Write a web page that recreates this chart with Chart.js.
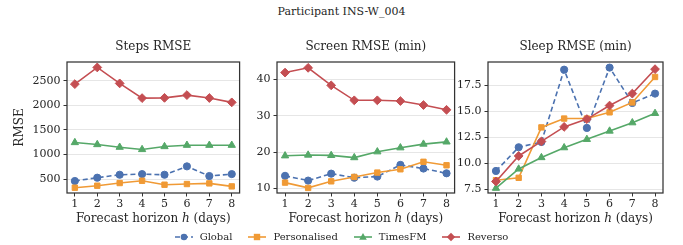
<!DOCTYPE html>
<html>
<head>
<meta charset="utf-8">
<script src="https://cdn.jsdelivr.net/npm/chart.js@4.4.1/dist/chart.umd.min.js"></script>
<style>
  html, body { margin:0; padding:0; background:#fff; }
  body { width:683px; height:245px; position:relative; overflow:hidden; font-family:"DejaVu Serif", serif; color:#262626; }
  .cv { position:absolute; top:0; }
  #figtitle { position:absolute; top:5px; left:0; width:683px; text-align:center; font-size:11px; }
  #legend { position:absolute; top:230px; left:0; width:683px; display:flex; justify-content:center; font-size:10px; line-height:14px; }
  .li { display:flex; align-items:center; margin:0 8px; }
  .li svg { margin-right:7px; }
</style>
</head>
<body>
<div id="figtitle">Participant INS-W_004</div>
<canvas id="c1" class="cv" style="left:0px" width="245" height="245"></canvas>
<canvas id="c2" class="cv" style="left:245px" width="215" height="245"></canvas>
<canvas id="c3" class="cv" style="left:455px" width="228" height="245"></canvas>
<div id="legend"></div>
<script>
// ---------- DATA ----------
const horizons = [1, 2, 3, 4, 5, 6, 7, 8];
const seriesNames = ["Global", "Personalised", "TimesFM", "Reverso"];

const stepsGlobal       = [460, 527, 587, 600, 587, 758, 561, 600];
const stepsPersonalised = [323, 364, 418, 465, 384, 398, 411, 350];
const stepsTimesFM      = [1244, 1203, 1149, 1102, 1162, 1189, 1189, 1189];
const stepsReverso      = [2435, 2775, 2450, 2150, 2155, 2211, 2152, 2063];

const screenGlobal       = [13.5, 12.2, 14.1, 13.0, 13.3, 16.5, 15.5, 14.2];
const screenPersonalised = [11.65, 10.2, 12.0, 13.2, 14.4, 15.3, 17.35, 16.4];
const screenTimesFM      = [19.0, 19.2, 19.1, 18.5, 20.1, 21.2, 22.2, 22.8];
const screenReverso      = [41.8, 43.1, 38.3, 34.2, 34.2, 34.0, 32.9, 31.6];

const sleepGlobal       = [9.26, 11.54, 12.05, 19.0, 13.4, 19.2, 15.8, 16.7];
const sleepPersonalised = [8.37, 8.6, 13.45, 14.3, 14.3, 14.9, 15.85, 18.3];
const sleepTimesFM      = [7.6, 9.45, 10.55, 11.5, 12.3, 13.1, 13.9, 14.8];
const sleepReverso      = [8.25, 10.7, 12.1, 13.5, 14.25, 15.55, 16.7, 19.05];

const stepsTicks  = [500, 1000, 1500, 2000, 2500];
const screenTicks = [10, 20, 30, 40];
const sleepTicks  = [7.5, 10.0, 12.5, 15.0, 17.5];

const panelTitles = ["Steps RMSE", "Screen RMSE (min)", "Sleep RMSE (min)"];
const yAxisTitle = "RMSE";
const xLabelParts = ["Forecast horizon ", "h", " (days)"];

// ---------- STYLE ----------
const FONT = '"DejaVu Serif", serif';
const TXT = '#262626';
const styles = [
  { color:'#4C72B0', pointStyle:'circle',   radius:3.6, dash:[5,3] },
  { color:'#F09A35', pointStyle:'rect',     radius:3.8, dash:[] },
  { color:'#55A868', pointStyle:'triangle', radius:4.2, dash:[] },
  { color:'#C44E52', pointStyle:'rectRot',  radius:4.4, dash:[] }
];

function mkDatasets(arrs) {
  return arrs.map((vals, i) => ({
    label: seriesNames[i],
    data: horizons.map((h, k) => ({ x: h, y: vals[k] })),
    borderColor: styles[i].color,
    backgroundColor: styles[i].color,
    borderWidth: 1.6,
    borderDash: styles[i].dash,
    pointStyle: styles[i].pointStyle,
    pointRadius: styles[i].radius,
    pointBorderWidth: 1,
    pointHoverRadius: styles[i].radius,
    tension: 0,
    order: 3 - i
  }));
}

const framePlugin = {
  id: 'frame',
  afterDraw(chart, args, opts) {
    const { ctx, chartArea: a } = chart;
    ctx.save();
    ctx.strokeStyle = '#333';
    ctx.lineWidth = 1.25;
    ctx.setLineDash([]);
    ctx.strokeRect(a.left, a.top, a.right - a.left, a.bottom - a.top);
    ctx.fillStyle = TXT;
    ctx.textBaseline = 'middle';
    ctx.textAlign = 'center';
    ctx.font = '12px ' + FONT;
    ctx.fillText(opts.title, (a.left + a.right) / 2, opts.titleY);
    const fonts = ['12px ' + FONT, 'italic 12px ' + FONT, '12px ' + FONT];
    const widths = xLabelParts.map((t, i) => { ctx.font = fonts[i]; return ctx.measureText(t).width; });
    const total = widths.reduce((s, w) => s + w, 0);
    let x = (a.left + a.right) / 2 - total / 2;
    ctx.textAlign = 'left';
    xLabelParts.forEach((t, i) => { ctx.font = fonts[i]; ctx.fillText(t, x, opts.xLabelY); x += widths[i]; });
    ctx.restore();
  }
};

function mkChart(id, arrs, title, yTicks, yMin, yMax, yWidth, rightPad, showYTitle, fmt) {
  return new Chart(document.getElementById(id), {
    type: 'line',
    data: { datasets: mkDatasets(arrs) },
    plugins: [framePlugin],
    options: {
      responsive: false,
      animation: false,
      events: [],
      layout: { padding: { top: 62, bottom: 32, left: 0, right: rightPad } },
      plugins: {
        legend: { display: false },
        tooltip: { enabled: false },
        title: { display: false },
        frame: { title: title, titleY: 47, xLabelY: 219 }
      },
      scales: {
        x: {
          type: 'linear', min: 0.65, max: 8.35,
          afterBuildTicks: s => { s.ticks = horizons.map(v => ({ value: v })); },
          afterFit: s => { s.height = 20; },
          border: { display: false },
          grid: { drawOnChartArea: false, drawTicks: true, tickLength: 3.5, tickColor: '#333', lineWidth: 1 },
          ticks: { color: TXT, font: { family: FONT, size: 11 }, padding: 1, maxRotation: 0 }
        },
        y: {
          type: 'linear', min: yMin, max: yMax,
          afterBuildTicks: s => { s.ticks = yTicks.map(v => ({ value: v })); },
          afterFit: s => { s.width = yWidth; },
          border: { display: false },
          grid: { color: '#e6e6e6', lineWidth: 1, drawTicks: true, tickLength: 3.5, tickColor: '#333' },
          ticks: { color: TXT, font: { family: FONT, size: 11 }, padding: 3, callback: fmt },
          title: { display: showYTitle, text: yAxisTitle, color: TXT, font: { family: FONT, size: 12 }, padding: { top: 13, bottom: 4 } }
        }
      }
    }
  });
}

mkChart('c1', [stepsGlobal, stepsPersonalised, stepsTimesFM, stepsReverso], panelTitles[0],
        stepsTicks, 215, 2886, 67, 5, true, v => String(v));
mkChart('c2', [screenGlobal, screenPersonalised, screenTimesFM, screenReverso], panelTitles[1],
        screenTicks, 8.8, 44.7, 32, 5, false, v => String(v));
mkChart('c3', [sleepGlobal, sleepPersonalised, sleepTimesFM, sleepReverso], panelTitles[2],
        sleepTicks, 7.14, 19.74, 33, 20, false, v => Number(v).toFixed(1));

// ---------- LEGEND (HTML) ----------
const leg = document.getElementById('legend');
seriesNames.forEach((name, i) => {
  const st = styles[i];
  let marker = '';
  const cx = 9, cy = 6;
  if (st.pointStyle === 'circle') marker = `<circle cx="${cx}" cy="${cy}" r="3.3" fill="${st.color}"/>`;
  else if (st.pointStyle === 'rect') marker = `<rect x="${cx-3.2}" y="${cy-3.2}" width="6.4" height="6.4" fill="${st.color}"/>`;
  else if (st.pointStyle === 'triangle') marker = `<polygon points="${cx},${cy-4} ${cx+3.8},${cy+2.8} ${cx-3.8},${cy+2.8}" fill="${st.color}"/>`;
  else marker = `<polygon points="${cx},${cy-4.2} ${cx+4.2},${cy} ${cx},${cy+4.2} ${cx-4.2},${cy}" fill="${st.color}"/>`;
  const dash = st.dash.length ? `stroke-dasharray="${st.dash.join(',')}"` : '';
  const div = document.createElement('div');
  div.className = 'li';
  div.innerHTML = `<svg width="18" height="12"><line x1="0" y1="${cy}" x2="18" y2="${cy}" stroke="${st.color}" stroke-width="1.6" ${dash}/>${marker}</svg><span>${name}</span>`;
  leg.appendChild(div);
});
</script>
</body>
</html>
